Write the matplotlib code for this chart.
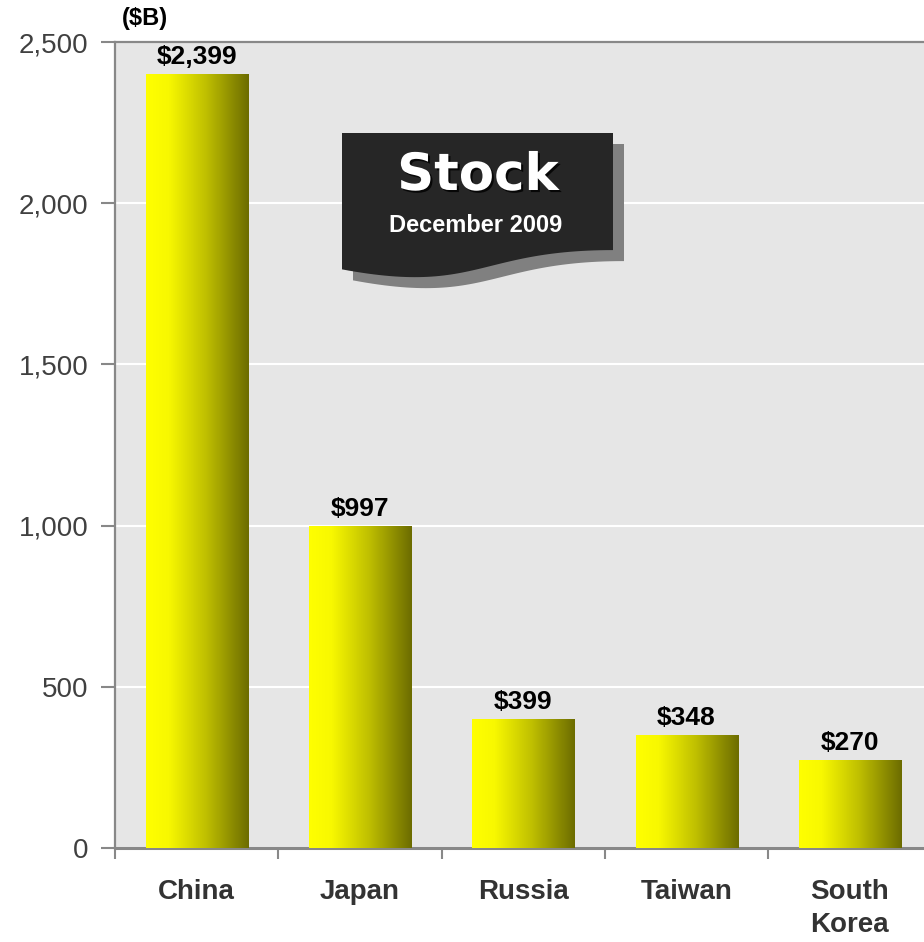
import numpy as np
import matplotlib
matplotlib.use("Agg")
import matplotlib.pyplot as plt
from matplotlib import font_manager
from matplotlib.colors import LinearSegmentedColormap
from matplotlib.patches import Polygon
import matplotlib.patheffects as pe

# 数据
countries = ["China", "Japan", "Russia", "Taiwan", "South\nKorea"]
values = [2399, 997, 399, 348, 270]
value_labels = ["$2,399", "$997", "$399", "$348", "$270"]
y_ticks = [0, 500, 1000, 1500, 2000, 2500]
y_tick_labels = ["0", "500", "1,000", "1,500", "2,000", "2,500"]

W, H = 924, 942
fig = plt.figure(figsize=(W / 100, H / 100), dpi=100)

# 坐标轴位置(右侧被裁掉一部分)
ax = fig.add_axes([115 / W, 1 - 848 / H, 816.5 / W, 806 / H])
ax.set_facecolor("#e6e6e6")

names = [f.name for f in font_manager.fontManager.ttflist]
narrow = "Liberation Sans Narrow" if "Liberation Sans Narrow" in names else "Liberation Sans"

x = np.arange(len(countries))
bars = ax.bar(x, values, width=0.625, color="none", edgecolor="none", zorder=3)

# 渐变色柱子
cmap = LinearSegmentedColormap.from_list(
    "olive", [(0, "#ffff00"), (0.22, "#f8f800"), (0.58, "#c0c000"), (1, "#6c6c00")])
grad = np.linspace(0, 1, 256).reshape(1, -1)
for b in bars:
    ax.imshow(grad, cmap=cmap, aspect="auto", zorder=3,
              extent=[b.get_x(), b.get_x() + b.get_width(), 0, b.get_height()])

for b, lab in zip(bars, value_labels):
    ax.annotate(lab, (b.get_x() + b.get_width() / 2, b.get_height()),
                xytext=(0, 4), textcoords="offset points", ha="center", va="bottom",
                fontsize=19, fontweight="bold", family="Liberation Sans", color="black")

ax.set_xlim(-0.5, len(countries) - 0.5)
ax.set_ylim(0, 2500)
ax.set_yticks(y_ticks)
ax.set_yticklabels(y_tick_labels, family="Liberation Sans", fontsize=20, color="#404040")
ax.yaxis.grid(True, color="white", linewidth=1.5, zorder=1)
ax.set_axisbelow(True)

ax.set_xticks(x)
ax.set_xticklabels(countries, family=narrow, fontweight="bold", fontsize=20,
                   color="#333333", linespacing=1.38)
ax.set_xticks(np.arange(-0.5, len(countries)), minor=True)
ax.tick_params(axis="x", which="major", length=0, pad=22)
ax.tick_params(axis="x", which="minor", length=8, width=1.5, color="#888888", direction="out")
ax.tick_params(axis="y", length=10, width=1.5, color="#888888", pad=9)

for s in ["left", "top", "bottom"]:
    ax.spines[s].set_color("#888888")
    ax.spines[s].set_linewidth(1.6)
ax.spines["bottom"].set_linewidth(2.2)
ax.spines["right"].set_visible(False)

fig.text(122 / W, 1 - 19 / H, "($B)", ha="left", va="center", fontsize=17,
         fontweight="bold", family="Liberation Sans", color="black")


# 标题牌子(文档形状, 下边为波浪)
def banner(x0, y0, w, h):
    t = np.linspace(0, 1, 60)
    p0 = np.array([x0 + w, y0 + 0.802 * h])
    p1 = np.array([x0 + 0.5 * w, y0 + 0.802 * h])
    p2 = np.array([x0 + 0.5 * w, y0 + 1.1075 * h])
    p3 = np.array([x0, y0 + 0.934 * h])
    curve = ((1 - t) ** 3)[:, None] * p0 + (3 * (1 - t) ** 2 * t)[:, None] * p1 \
        + (3 * (1 - t) * t ** 2)[:, None] * p2 + (t ** 3)[:, None] * p3
    pts = np.vstack([[x0, y0], [x0 + w, y0], curve])
    return np.column_stack([pts[:, 0] / W, 1 - pts[:, 1] / H])


fig.patches.append(Polygon(banner(353, 144, 271, 146), closed=True, transform=fig.transFigure,
                           facecolor="#808080", edgecolor="none", zorder=5))
fig.patches.append(Polygon(banner(342, 133, 271, 146), closed=True, transform=fig.transFigure,
                           facecolor="#262626", edgecolor="none", zorder=6))

fig.text(478 / W, 1 - 176 / H, "Stock", ha="center", va="center", fontsize=37,
         fontweight="bold", family="DejaVu Sans", color="white", zorder=7,
         path_effects=[pe.withSimplePatchShadow(offset=(1.5, -1.5), shadow_rgbFace="black", alpha=0.8)])
fig.text(476 / W, 1 - 225 / H, "December 2009", ha="center", va="center", fontsize=17,
         fontweight="bold", family="Liberation Sans", color="white", zorder=7)

fig.savefig("out.png", dpi=100)
